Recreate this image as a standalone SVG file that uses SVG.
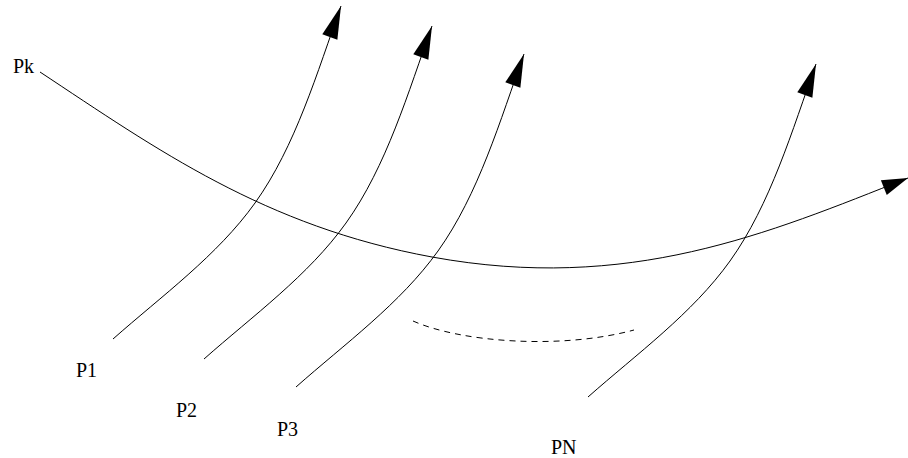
<svg xmlns="http://www.w3.org/2000/svg" width="908" height="458" viewBox="0 0 908 458">
<style>
.c{fill:none;stroke:#000;stroke-width:1}
.d{fill:none;stroke:#000;stroke-width:1;stroke-dasharray:6,5}
.t{font-family:"Liberation Serif","Times New Roman",serif;font-size:20px;fill:#000}
</style>
<defs>
<marker id="ap" markerUnits="userSpaceOnUse" markerWidth="34" markerHeight="17" refX="33" refY="8" orient="auto" overflow="visible">
<path d="M0,0 L33,8 L0,16 Z" fill="#000"/>
</marker>
<marker id="am" markerUnits="userSpaceOnUse" markerWidth="28" markerHeight="17" refX="26" refY="8" orient="auto" overflow="visible">
<path d="M0,0 L26,8 L0,16 Z" fill="#000"/>
</marker>
<path id="pc" d="M113,339 C161.7,295.9 217.3,255.7 255,203 C295.6,146.3 317.3,71.9 341,6"/>
</defs>
<g id="connectors">
<path class="c" d="M40,72 C156.8,149.3 264.7,226.4 432,257 C628.8,293 768.5,233.2 908,178" marker-end="url(#am)"/>
<path class="c" d="M113,339 C161.7,295.9 217.3,255.7 255,203 C295.6,146.3 317.3,71.9 341,6" marker-end="url(#ap)"/>
<path class="c" transform="translate(91,20)" d="M113,339 C161.7,295.9 217.3,255.7 255,203 C295.6,146.3 317.3,71.9 341,6" marker-end="url(#ap)"/>
<path class="c" transform="translate(183,48)" d="M113,339 C161.7,295.9 217.3,255.7 255,203 C295.6,146.3 317.3,71.9 341,6" marker-end="url(#ap)"/>
<path class="c" transform="translate(475,58)" d="M113,339 C161.7,295.9 217.3,255.7 255,203 C295.6,146.3 317.3,71.9 341,6" marker-end="url(#ap)"/>
<path class="d" d="M413,321 C460,342 560,350 634,330"/>
</g>
<g id="node-pk"><text class="t" x="13" y="73">Pk</text></g>
<g id="node-p1"><text class="t" x="76" y="377">P1</text></g>
<g id="node-p2"><text class="t" x="176" y="417">P2</text></g>
<g id="node-p3"><text class="t" x="277" y="436">P3</text></g>
<g id="node-pn"><text class="t" x="551" y="454">PN</text></g>
</svg>
